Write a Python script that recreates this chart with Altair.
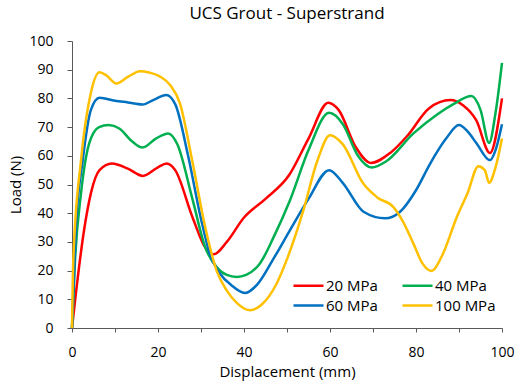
import altair as alt
import pandas as pd

series_names = ["20 MPa", "40 MPa", "60 MPa", "100 MPa"]
colors = ["#FF0000", "#00B050", "#0070C0", "#FFC000"]

x_20 = [0, 0.9, 2.9, 4.4, 6.4, 9.3, 13, 16.5, 20, 22, 24, 28, 31, 33, 36, 40, 45, 50.5, 55, 59.6, 62, 66, 69.5, 74, 78, 83, 88, 91, 94, 97.2, 100]
y_20 = [0, 12, 35, 47, 55, 57.3, 55.5, 53, 56, 57.3, 55, 38.7, 28, 25.7, 30, 38.5, 45, 53.3, 66, 78.5, 76, 63, 57.5, 61, 67, 76.5, 79.4, 77.5, 72.4, 61, 80]

x_40 = [0, 0.7, 2.1, 4, 6.3, 8.5, 11, 14, 16.4, 19.5, 22.4, 24.5, 28, 31, 33.6, 36, 38.3, 40.5, 43.7, 47, 50.7, 55, 59.8, 63, 66.5, 69.7, 73, 79.4, 85, 88.7, 92.9, 95, 97, 98.5, 100]
y_40 = [0, 23.6, 47, 64.3, 70, 70.7, 69.5, 65, 62.9, 66, 67.8, 64, 45, 28, 21.3, 18.5, 17.8, 18.5, 22.5, 32, 44.5, 62, 75, 71, 60, 55.9, 58, 67.8, 74.5, 78, 80.8, 76, 64.5, 75, 92.4]

x_60 = [0, 0.9, 2.5, 4.4, 6.4, 10, 13, 16.4, 19, 21.9, 24, 27, 30, 32, 34.4, 37, 40.2, 43, 47, 50.7, 55, 59.8, 63, 67.8, 72.8, 76.3, 80, 83.3, 87, 90, 92, 94.1, 97.2, 98.5, 100]
y_60 = [0, 35, 58.5, 76, 80.2, 79.2, 78.6, 77.9, 79.5, 81.2, 78, 60, 38, 26, 19, 15, 12.2, 15, 24.5, 34.1, 45, 55, 50.5, 40.5, 38.2, 40.5, 48, 57.3, 66, 70.7, 68.5, 64.3, 58.5, 62, 71]

x_100 = [0, 0.3, 2.1, 4.4, 6.4, 8, 10.3, 13, 15.8, 18, 20.5, 22.8, 25.1, 28, 31, 33.6, 36, 38.5, 41.4, 44, 47.6, 50, 53.8, 57, 60, 63, 67.7, 71, 74.7, 77, 79.4, 81.5, 83.6, 86, 89.5, 92, 94.5, 96, 97, 98.5, 100]
y_100 = [0, 23.6, 58.5, 82, 89.1, 88, 85.2, 87.5, 89.5, 89, 87.6, 84.7, 78.3, 58, 35, 20.1, 13, 8.5, 6.2, 8, 15.5, 24, 41, 58, 67.2, 64, 50.4, 45.5, 42.2, 37, 29.4, 22.5, 19.9, 25, 38.7, 47, 56.4, 55, 50.6, 56, 66]

rows = []
for name, xs, ys in zip(series_names, [x_20, x_40, x_60, x_100], [y_20, y_40, y_60, y_100]):
    for i, (xv, yv) in enumerate(zip(xs, ys)):
        rows.append({"series": name, "x": xv, "y": yv, "order": i})
df = pd.DataFrame(rows)

FONT = "Open Sans"

chart = alt.Chart(df).mark_line(interpolate="monotone", strokeWidth=2.5).encode(
    x=alt.X("x:Q", scale=alt.Scale(domain=[0, 100], nice=False),
            axis=alt.Axis(title="Displacement (mm)", values=list(range(0, 101, 10)),
                          labelExpr="datum.value % 20 == 0 ? datum.label : ''",
                          labelFlush=False, labelOverlap=False,
                          grid=False, tickSize=4, labelPadding=13, titlePadding=5,
                          domainColor="#595959", tickColor="#595959")),
    y=alt.Y("y:Q", scale=alt.Scale(domain=[0, 100], nice=False),
            axis=alt.Axis(title="Load (N)", values=list(range(0, 101, 10)),
                          grid=False, tickSize=5, labelPadding=14, titlePadding=5,
                          labelFlush=False,
                          domainColor="#595959", tickColor="#595959")),
    color=alt.Color("series:N", sort=series_names,
                    scale=alt.Scale(domain=series_names, range=colors),
                    legend=alt.Legend(title=None, orient="none", legendX=229, legendY=237,
                                      direction="horizontal", columns=2,
                                      symbolType="M-3,0L3,0", symbolSize=100,
                                      symbolStrokeWidth=2.5, columnPadding=19, rowPadding=4,
                                      labelFontSize=15, labelFont=FONT, labelColor="#000000",
                                      labelOffset=10, labelLimit=200)),
    order="order:Q",
).properties(
    width=430, height=287,
    title=alt.TitleParams("UCS Grout - Superstrand", fontSize=17, font=FONT,
                          fontWeight="normal", color="#000000", offset=11),
    autosize=alt.AutoSizeParams(type="none"),
    padding={"left": 72, "top": 41, "right": 15, "bottom": 58},
).configure_axis(
    labelFont=FONT, titleFont=FONT, labelFontSize=14, titleFontSize=15,
    labelColor="#000000", titleColor="#000000", titleFontWeight="normal",
).configure_view(stroke=None)

chart.save("out.html", embed_options={"renderer": "svg", "actions": False})
